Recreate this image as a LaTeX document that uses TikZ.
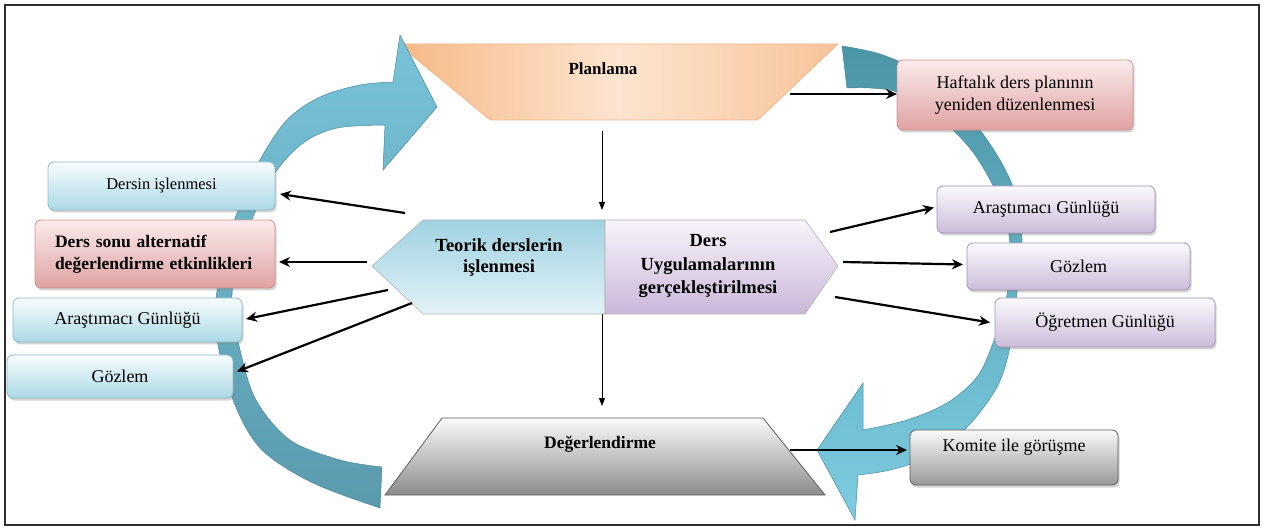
\documentclass[tikz,border=0pt]{standalone}
\usepackage{fontspec}
\setmainfont{Liberation Serif}
\usetikzlibrary{calc,shadows,arrows.meta}

\definecolor{framegray}{HTML}{2E2E2E}
\definecolor{bluetop}{HTML}{F7FCFD}
\definecolor{bluebot}{HTML}{ABD9E6}
\definecolor{bluebd}{HTML}{8DBCCB}
\definecolor{pinktop}{HTML}{FBEBEB}
\definecolor{pinkbot}{HTML}{E0A2A2}
\definecolor{pinkbd}{HTML}{CC9494}
\definecolor{lilactop}{HTML}{FBF9FC}
\definecolor{lilacbot}{HTML}{CBBCDA}
\definecolor{lilacbd}{HTML}{A396B3}
\definecolor{greytop}{HTML}{FAFAFA}
\definecolor{greybot}{HTML}{989898}
\definecolor{greybd}{HTML}{5E5E5E}
\definecolor{orangeside}{HTML}{F6B987}
\definecolor{orangemid}{HTML}{FDE4CF}
\definecolor{orangebd}{HTML}{F2B48A}
\definecolor{arcLtop}{HTML}{78C3D9}
\definecolor{arcLbot}{HTML}{5A9AAD}
\definecolor{arcRtop}{HTML}{4A95A6}
\definecolor{arcRbot}{HTML}{7DCCE1}
\definecolor{arcedge}{HTML}{4B8B9C}
\definecolor{hexLtop}{HTML}{9FD2E1}
\definecolor{hexLbot}{HTML}{E2F2F7}
\definecolor{hexRtop}{HTML}{F7F3FA}
\definecolor{hexRbot}{HTML}{CBB8D9}
\definecolor{hexbd}{HTML}{B4B4B4}

\begin{document}
\begin{tikzpicture}[x=1pt,y=-1pt,
  every node/.style={inner sep=0pt, outer sep=0pt},
  boxbase/.style={rounded corners=6pt, line width=0.8pt, align=center,
    font=\fontsize{18}{22}\selectfont,
    drop shadow={shadow xshift=1.5pt, shadow yshift=-2.5pt, opacity=0.35}},
  bluebox/.style={boxbase, draw=bluebd, top color=bluetop, bottom color=bluebot},
  pinkbox/.style={boxbase, draw=pinkbd, top color=pinktop, bottom color=pinkbot},
  lilacbox/.style={boxbase, draw=lilacbd, top color=lilactop, bottom color=lilacbot},
  greybox/.style={boxbase, draw=greybd, top color=greytop, bottom color=greybot},
  arr/.style={-{Stealth[length=11pt,width=10pt]}, line width=2.2pt},
  thinarr/.style={-{Triangle[length=8pt,width=6pt]}, line width=0.9pt},
  title/.style={font=\bfseries\fontsize{18}{23}\selectfont, align=center}
]
\useasboundingbox (0,0) rectangle (1264,529);
\fill[white] (0,0) rectangle (1264,529);
\draw[line width=1.8pt, framegray] (5,5) rectangle (1259,525);

% planning stage (inverted trapezium)
\path[draw=orangebd, line width=0.6pt, left color=orangeside, right color=orangeside!85!white, middle color=orangemid]
  (398,44) -- (838,44) -- (758,120) -- (490,120) -- cycle;
\node[title, font=\bfseries\fontsize{17}{21}\selectfont] (plan) at (603,69) {Planlama};

% evaluation stage (trapezium)
\path[draw=greybd, line width=0.8pt, top color=greytop, bottom color=greybot!92!black]
  (442,418) -- (763,418) -- (825,495) -- (385,495) -- cycle;
\node[title, font=\bfseries\fontsize{17.5}{21}\selectfont] (deg) at (600,444) {Değerlendirme};

% left cycle arrow, rising towards the planning stage
\path[top color=arcLtop, bottom color=arcLbot, draw=arcedge, line width=0.5pt]
  plot[smooth, tension=0.55] coordinates {(380,508) (313,483) (262,450) (235,405) (218,345) (216,300) (225,250) (240,205) (260,160) (287,120) (320,97) (360,85) (393,82)}
  -- (400,35) -- (437,107) -- (383,170) -- (385,125)
  -- plot[smooth, tension=0.55] coordinates {(385,125) (337,128) (303,143) (275,173) (253,217) (236,270) (232,305) (240,350) (256,400) (290,440) (340,460) (382,467)}
  -- cycle;

% right cycle arrow, descending towards the evaluation stage
\path[top color=arcRtop, bottom color=arcRbot, draw=arcedge, line width=0.5pt]
  plot[smooth, tension=0.55] coordinates {(842,46) (880,54) (920,72) (955,100) (980,130) (1000,160) (1013,187) (1020,215) (1022,240) (1020,270) (1016,300) (1010,347) (997,387) (967,427) (927,457) (890,470) (858,475)}
  -- (855,520) -- (817,450) -- (863,383) -- (863,430)
  -- plot[smooth, tension=0.55] coordinates {(863,430) (907,420) (947,403) (977,377) (993,343) (1006,300) (1010,260) (1008,230) (995,190) (975,155) (953,130) (930,110) (897,92) (870,88) (847,88)}
  -- cycle;

% central double arrow shape
\path[draw=hexbd, line width=0.6pt, top color=hexLtop, bottom color=hexLbot]
  (372,266) -- (423,220) -- (605,220) -- (605,314) -- (423,314) -- cycle;
\path[draw=hexbd, line width=0.6pt, top color=hexRtop, bottom color=hexRbot]
  (605,220) -- (805,220) -- (838,266) -- (805,314) -- (605,314) -- cycle;
\node[title, font=\bfseries\fontsize{18.5}{21}\selectfont] (teorik) at (499,257) {Teorik derslerin\\işlenmesi};
\node[title, font=\bfseries\fontsize{18.5}{23.5}\selectfont] (uyg) at (708,266) {Ders\\Uygulamalarının\\gerçekleştirilmesi};

% left column
\node[bluebox, minimum width=227pt, minimum height=48pt, font=\fontsize{16.5}{20}\selectfont] (dersin) at (161.5,186) {Dersin işlenmesi};
\node[pinkbox, minimum width=240pt, minimum height=68pt, align=left, text width=200pt,
      font=\bfseries\fontsize{17.5}{22}\selectfont] (dsonu) at (155,254) {Ders sonu alternatif\\değerlendirme etkinlikleri};
\node[bluebox, minimum width=229pt, minimum height=44pt] (laras) at (127.5,320) {Araştımacı Günlüğü};
\node[bluebox, minimum width=226pt, minimum height=43pt] (lgoz) at (120,376.5) {Gözlem};

% right column
\node[pinkbox, minimum width=236pt, minimum height=70pt, font=\fontsize{18}{22}\selectfont] (haft) at (1015,95) {Haftalık ders planının\\yeniden düzenlenmesi};
\node[lilacbox, minimum width=218pt, minimum height=47pt] (raras) at (1046,209.5) {Araştımacı Günlüğü};
\node[lilacbox, minimum width=223pt, minimum height=47pt] (rgoz) at (1078.5,266.5) {Gözlem};
\node[lilacbox, minimum width=220pt, minimum height=49pt] (rog) at (1105,322.5) {Öğretmen Günlüğü};
\node[greybox, minimum width=208pt, minimum height=55pt, text depth=25pt] (kom) at (1014,457.5) {Komite ile görüşme};

% connector end points on the stage shapes
\coordinate (planR) at (790,94);
\coordinate (planB) at (602,131);
\coordinate (hexT) at (602,210);
\coordinate (hexB) at (602,314);
\coordinate (degT) at (602,406);
\coordinate (degR) at (790,450);
\coordinate (hl1) at (405,213);
\coordinate (hl2) at (367,262);
\coordinate (hl3) at (388,290);
\coordinate (hl4) at (412,303);
\coordinate (hr1) at (830,232);
\coordinate (hr2) at (843,262);
\coordinate (hr3) at (835,297);

% connectors
\draw[arr] (planR) -- (haft.west |- planR);
\draw[thinarr] (planB) -- (hexT);
\draw[thinarr] (hexB) -- (degT);
\draw[arr] (degR) -- ($(kom.west |- degR)+(-3,0)$);
\draw[arr] (hl1) -- ($(dersin.east)+(5,8)$);
\draw[arr] (hl2) -- ($(dsonu.east |- hl2)+(4,0)$);
\draw[arr] (hl3) -- ($(laras.east)+(4,-1)$);
\draw[arr] (hl4) -- ($(lgoz.east)+(4,-5)$);
\draw[arr] (hr1) -- ($(raras.west)+(-3,-2)$);
\draw[arr] (hr2) -- ($(rgoz.west)+(-4,-2)$);
\draw[arr] (hr3) -- ($(rog.west)+(-5,0)$);
\end{tikzpicture}
\end{document}
